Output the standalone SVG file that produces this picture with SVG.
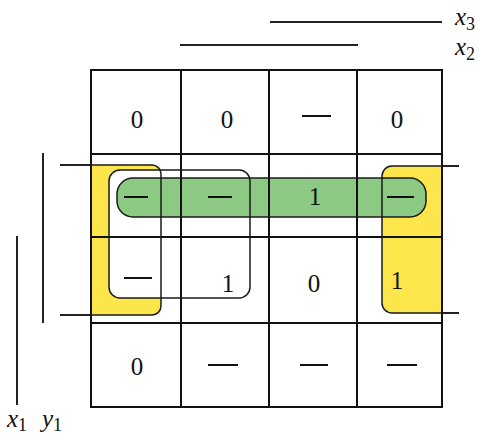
<svg xmlns="http://www.w3.org/2000/svg" width="479" height="437" viewBox="0 0 479 437">
  <style>
    .grid { fill: none; stroke: #111; stroke-width: 2; }
    .bar { fill: none; stroke: #222; stroke-width: 2; }
    .edge { fill: none; stroke: #1a1a1a; stroke-width: 1.5; }
    .val { font-family: "Liberation Serif", "DejaVu Serif", serif; font-size: 25px; fill: #111; text-anchor: middle; }
    .dc { stroke: #111; stroke-width: 2; }
    .lbl { font-family: "Liberation Serif", "DejaVu Serif", serif; font-size: 25px; font-style: italic; fill: #111; }
    .sub { font-style: normal; font-size: 18px; }
  </style>

  <!-- variable bars -->
  <g id="bars">
    <line class="bar" x1="270" y1="22" x2="442" y2="22"/>
    <line class="bar" x1="180" y1="45" x2="358" y2="45"/>
    <line class="bar" x1="43" y1="153" x2="43" y2="323"/>
    <line class="bar" x1="17" y1="236" x2="17" y2="405"/>
    <line class="bar" x1="60" y1="165" x2="91" y2="165"/>
    <line class="bar" x1="60" y1="315" x2="91" y2="315"/>
    <line class="bar" x1="442" y1="166" x2="459" y2="166"/>
    <line class="bar" x1="442" y1="313" x2="459" y2="313"/>
  </g>

  <g id="labels">
    <text class="lbl" x="455" y="25">x<tspan class="sub" dy="5">3</tspan></text>
    <text class="lbl" x="455" y="55">x<tspan class="sub" dy="5">2</tspan></text>
    <text class="lbl" x="7" y="427">x<tspan class="sub" dy="4">1</tspan></text>
    <text class="lbl" x="42" y="427">y<tspan class="sub" dy="4">1</tspan></text>
  </g>

  <!-- group fills -->
  <g id="fills">
    <path id="wrap-left" d="M91 165 H152 A9 9 0 0 1 161 174 V306 A9 9 0 0 1 152 315 H91 Z" fill="#fde64b"/>
    <path id="wrap-right" d="M442 166 H392 A10 10 0 0 0 382 176 V303 A10 10 0 0 0 392 313 H442 Z" fill="#fde64b"/>
    <rect id="quad" x="109" y="170" width="141" height="128" rx="11" fill="#ffffff"/>
    <rect id="row-bar" x="117" y="178" width="309" height="39" rx="16" fill="#8cca84"/>
  </g>

  <!-- map grid -->
  <g id="grid">
    <rect class="grid" x="91" y="70" width="351" height="337"/>
    <line class="grid" x1="181" y1="70" x2="181" y2="407"/>
    <line class="grid" x1="269" y1="70" x2="269" y2="407"/>
    <line class="grid" x1="357" y1="70" x2="357" y2="407"/>
    <line class="grid" x1="91" y1="154" x2="442" y2="154"/>
    <line class="grid" x1="91" y1="237" x2="442" y2="237"/>
    <line class="grid" x1="91" y1="323" x2="442" y2="323"/>
  </g>

  <!-- group outlines -->
  <g id="outlines">
    <path class="edge" d="M91 165 H152 A9 9 0 0 1 161 174 V306 A9 9 0 0 1 152 315 H91"/>
    <path class="edge" d="M442 166 H392 A10 10 0 0 0 382 176 V303 A10 10 0 0 0 392 313 H442"/>
    <rect class="edge" x="109" y="170" width="141" height="128" rx="11"/>
    <rect class="edge" x="117" y="178" width="309" height="39" rx="16"/>
  </g>

  <!-- cell values -->
  <g id="cells">
    <text class="val" x="137" y="128">0</text>
    <text class="val" x="227" y="128">0</text>
    <line class="dc" x1="302" y1="116" x2="331" y2="116"/>
    <text class="val" x="397" y="128">0</text>

    <line class="dc" x1="124" y1="197" x2="148" y2="197"/>
    <line class="dc" x1="208" y1="197" x2="232" y2="197"/>
    <text class="val" x="315" y="205">1</text>
    <line class="dc" x1="387" y1="197" x2="414" y2="197"/>

    <line class="dc" x1="124" y1="278" x2="152" y2="278"/>
    <text class="val" x="228" y="292">1</text>
    <text class="val" x="314" y="292">0</text>
    <text class="val" x="397" y="289">1</text>

    <text class="val" x="137" y="375">0</text>
    <line class="dc" x1="208" y1="365" x2="238" y2="365"/>
    <line class="dc" x1="300" y1="365" x2="328" y2="365"/>
    <line class="dc" x1="387" y1="365" x2="417" y2="365"/>
  </g>
</svg>
